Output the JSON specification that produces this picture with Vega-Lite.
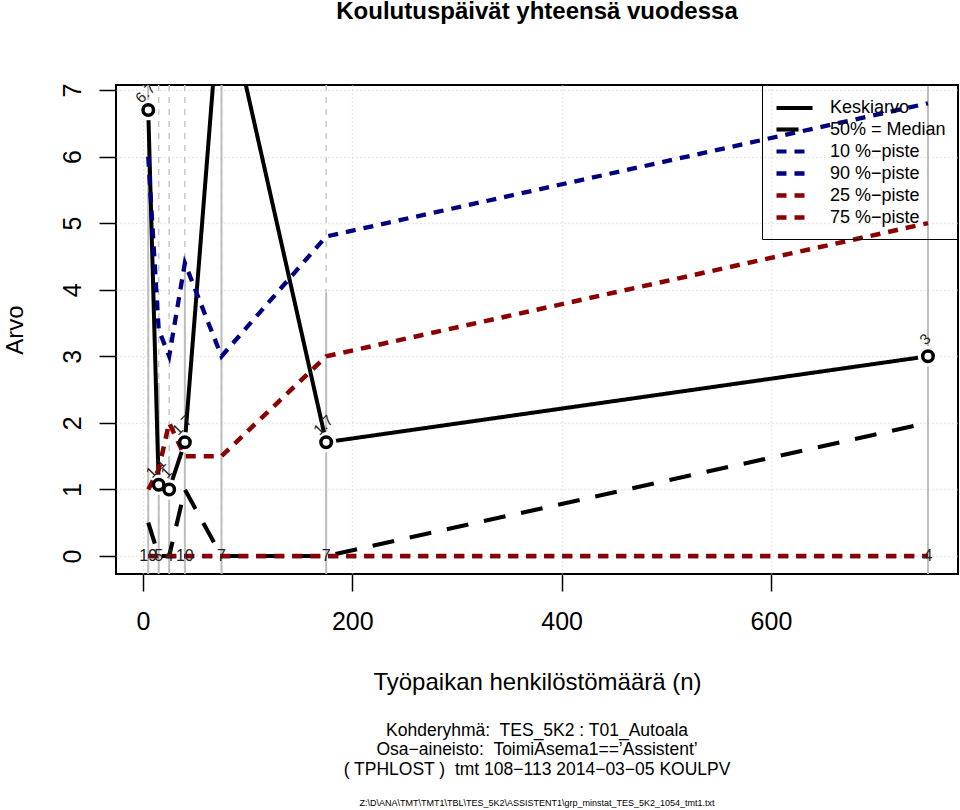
{
  "$schema": "https://vega.github.io/schema/vega-lite/v6.json",
  "width": 842,
  "height": 489,
  "autosize": {"type": "none"},
  "padding": {"left": 116, "top": 85, "right": 2, "bottom": 236},
  "background": "white",
  "config": {
    "view": {"stroke": "black", "strokeWidth": 2},
    "font": "Liberation Sans",
    "text": {"font": "Liberation Sans", "color": "black"},
    "axisX": {
      "domain": false, "grid": true, "gridColor": "#D3D3D3", "gridDash": [1, 3], "gridWidth": 1.5,
      "tickColor": "black", "tickSize": 17, "tickWidth": 1.5,
      "labelFontSize": 25, "labelFont": "Liberation Sans", "labelColor": "black", "labelPadding": 18,
      "titleFont": "Liberation Sans", "titleFontSize": 24, "titleFontWeight": "normal", "titleColor": "black", "titlePadding": 36
    },
    "axisY": {
      "domain": false, "grid": true, "gridColor": "#D3D3D3", "gridDash": [1, 3], "gridWidth": 1.5,
      "tickColor": "black", "tickSize": 17, "tickWidth": 1.5, "labelAngle": 270,
      "labelFontSize": 25, "labelFont": "Liberation Sans", "labelColor": "black", "labelPadding": 14,
      "titleFont": "Liberation Sans", "titleFontSize": 24, "titleFontWeight": "normal", "titleColor": "black", "titlePadding": 33
    }
  },
  "title": {
    "text": "Koulutuspäivät yhteensä vuodessa",
    "fontSize": 24,
    "fontWeight": "bold",
    "font": "Liberation Sans",
    "color": "black",
    "anchor": "middle",
    "offset": 59
  },
  "datasets": {
    "lines": [
      {"x": 5, "y": 6.7, "series": "Keskiarvo"},
      {"x": 15, "y": 1.07, "series": "Keskiarvo"},
      {"x": 25, "y": 1.0, "series": "Keskiarvo"},
      {"x": 40, "y": 1.71, "series": "Keskiarvo"},
      {"x": 75, "y": 8.7, "series": "Keskiarvo"},
      {"x": 175, "y": 1.71, "series": "Keskiarvo"},
      {"x": 750, "y": 3.0, "series": "Keskiarvo"},
      {"x": 5, "y": 0.5, "series": "50% = Median"},
      {"x": 15, "y": 0, "series": "50% = Median"},
      {"x": 25, "y": 0, "series": "50% = Median"},
      {"x": 40, "y": 1.0, "series": "50% = Median"},
      {"x": 75, "y": 0, "series": "50% = Median"},
      {"x": 175, "y": 0, "series": "50% = Median"},
      {"x": 750, "y": 2.0, "series": "50% = Median"},
      {"x": 5, "y": 0, "series": "10 %−piste"},
      {"x": 15, "y": 0, "series": "10 %−piste"},
      {"x": 25, "y": 0, "series": "10 %−piste"},
      {"x": 40, "y": 0, "series": "10 %−piste"},
      {"x": 75, "y": 0, "series": "10 %−piste"},
      {"x": 175, "y": 0, "series": "10 %−piste"},
      {"x": 750, "y": 0, "series": "10 %−piste"},
      {"x": 5, "y": 6.0, "series": "90 %−piste"},
      {"x": 15, "y": 3.4, "series": "90 %−piste"},
      {"x": 25, "y": 3.0, "series": "90 %−piste"},
      {"x": 40, "y": 4.4, "series": "90 %−piste"},
      {"x": 75, "y": 3.0, "series": "90 %−piste"},
      {"x": 175, "y": 4.8, "series": "90 %−piste"},
      {"x": 750, "y": 6.8, "series": "90 %−piste"},
      {"x": 5, "y": 0, "series": "25 %−piste"},
      {"x": 15, "y": 0, "series": "25 %−piste"},
      {"x": 25, "y": 0, "series": "25 %−piste"},
      {"x": 40, "y": 0, "series": "25 %−piste"},
      {"x": 75, "y": 0, "series": "25 %−piste"},
      {"x": 175, "y": 0, "series": "25 %−piste"},
      {"x": 750, "y": 0, "series": "25 %−piste"},
      {"x": 5, "y": 1.0, "series": "75 %−piste"},
      {"x": 15, "y": 1.3, "series": "75 %−piste"},
      {"x": 25, "y": 2.0, "series": "75 %−piste"},
      {"x": 40, "y": 1.5, "series": "75 %−piste"},
      {"x": 75, "y": 1.5, "series": "75 %−piste"},
      {"x": 175, "y": 3.0, "series": "75 %−piste"},
      {"x": 750, "y": 5.0, "series": "75 %−piste"}
    ],
    "points": [
      {"x": 5, "y": 6.7, "label": "6.7", "n": "19"},
      {"x": 15, "y": 1.07, "label": "1.1", "n": "5"},
      {"x": 25, "y": 1.0, "label": "1", "n": "4"},
      {"x": 40, "y": 1.71, "label": "1.7", "n": "10"},
      {"x": 75, "y": 8.7, "label": "8.7", "n": "7"},
      {"x": 175, "y": 1.71, "label": "1.7", "n": "7"},
      {"x": 750, "y": 3.0, "label": "3", "n": "4"}
    ],
    "vlines": [
      {"x": 5, "y": 10},
      {"x": 15, "y": 2.6},
      {"x": 25, "y": 1.5},
      {"x": 40, "y": 4.4},
      {"x": 75, "y": 10},
      {"x": 175, "y": 3.95},
      {"x": 750, "y": 10}
    ]
  },
  "encoding": {
    "x": {
      "field": "x",
      "type": "quantitative",
      "scale": {"domain": [-25.8, 778.7], "nice": false, "zero": false},
      "axis": {"title": "Työpaikan henkilöstömäärä (n)", "values": [0, 200, 400, 600]}
    },
    "y": {
      "field": "y",
      "type": "quantitative",
      "scale": {"domain": [-0.27, 7.075], "nice": false, "zero": false},
      "axis": {"title": "Arvo", "values": [0, 1, 2, 3, 4, 5, 6, 7]}
    }
  },
  "layer": [
    {
      "data": {"name": "vlines"},
      "mark": {"type": "rule", "color": "#C8C8C8", "strokeWidth": 1.5, "strokeDash": [6, 6], "clip": true},
      "encoding": {
        "y": {"datum": 7.075, "type": "quantitative", "scale": {"domain": [-0.27, 7.075], "nice": false, "zero": false}, "axis": {"title": "Arvo", "values": [0, 1, 2, 3, 4, 5, 6, 7]}},
        "y2": {"datum": -0.27}
      }
    },
    {
      "data": {"name": "vlines"},
      "mark": {"type": "rule", "color": "#BEBEBE", "strokeWidth": 2, "clip": true},
      "encoding": {
        "y2": {"datum": -0.27}
      }
    },
    {
      "data": {"name": "lines"},
      "transform": [{"filter": "datum.series === 'Keskiarvo'"}],
      "mark": {"type": "line", "clip": true},
      "encoding": {
        "color": {"field": "series", "type": "nominal", "scale": {"domain": ["Keskiarvo", "50% = Median", "10 %−piste", "90 %−piste", "25 %−piste", "75 %−piste"], "range": ["black", "black", "#000080", "#000080", "#8B0000", "#8B0000"]},
          "legend": {"title": null, "orient": "top-right", "offset": 0, "strokeColor": "black", "padding": 12, "labelFontSize": 18, "labelFont": "Liberation Sans", "labelColor": "black", "symbolType": "M-1,0H3", "symbolSize": 324, "labelOffset": 33, "rowPadding": 1}},
        "strokeDash": {"field": "series", "type": "nominal", "scale": {"domain": ["Keskiarvo", "50% = Median", "10 %−piste", "90 %−piste", "25 %−piste", "75 %−piste"], "range": [[1, 0], [22, 16], [10, 8], [10, 8], [10, 8], [10, 8]]}},
        "strokeWidth": {"field": "series", "type": "nominal", "scale": {"domain": ["Keskiarvo", "50% = Median", "10 %−piste", "90 %−piste", "25 %−piste", "75 %−piste"], "range": [4, 4.5, 2.3, 2.3, 2.3, 2.3]}}
      }
    },
    {
      "data": {"name": "points"},
      "mark": {"type": "point", "shape": "circle", "filled": true, "color": "white", "opacity": 1, "size": 420, "clip": true}
    },
    {
      "data": {"name": "lines"},
      "transform": [{"filter": "datum.series !== 'Keskiarvo'"}],
      "mark": {"type": "line", "clip": true},
      "encoding": {
        "color": {"field": "series", "type": "nominal", "scale": {"domain": ["Keskiarvo", "50% = Median", "10 %−piste", "90 %−piste", "25 %−piste", "75 %−piste"], "range": ["black", "black", "#000080", "#000080", "#8B0000", "#8B0000"]}},
        "strokeDash": {"field": "series", "type": "nominal", "scale": {"domain": ["Keskiarvo", "50% = Median", "10 %−piste", "90 %−piste", "25 %−piste", "75 %−piste"], "range": [[1, 0], [22, 16], [10, 8], [10, 8], [10, 8], [10, 8]]}},
        "strokeWidth": {"field": "series", "type": "nominal", "scale": {"domain": ["Keskiarvo", "50% = Median", "10 %−piste", "90 %−piste", "25 %−piste", "75 %−piste"], "range": [4, 4.5, 2.3, 2.3, 2.3, 2.3]}}
      }
    },
    {
      "data": {"name": "points"},
      "mark": {"type": "point", "shape": "circle", "filled": false, "color": "black", "strokeWidth": 3.5, "opacity": 1, "size": 110, "clip": true}
    },
    {
      "data": {"name": "points"},
      "mark": {"type": "text", "angle": 315, "fontSize": 15, "dx": 10, "dy": -14, "color": "#222222", "clip": true},
      "encoding": {
        "text": {"field": "label"}
      }
    },
    {
      "data": {"name": "points"},
      "mark": {"type": "text", "fontSize": 16, "baseline": "middle", "color": "#222222"},
      "encoding": {
        "y": {"datum": 0, "type": "quantitative", "scale": {"domain": [-0.27, 7.075], "nice": false, "zero": false}, "axis": {"title": "Arvo", "values": [0, 1, 2, 3, 4, 5, 6, 7]}},
        "text": {"field": "n"}
      }
    },
    {
      "data": {"name": "points"},
      "transform": [{"filter": "datum.x === 750"}],
      "mark": {"type": "text", "fontSize": 17.5, "baseline": "middle", "color": "black"},
      "encoding": {
        "x": {"datum": 376.5, "type": "quantitative", "scale": {"domain": [-25.8, 778.7], "nice": false, "zero": false}, "axis": {"title": "Työpaikan henkilöstömäärä (n)", "values": [0, 200, 400, 600]}},
        "y": {"datum": -2.63, "type": "quantitative", "scale": {"domain": [-0.27, 7.075], "nice": false, "zero": false}, "axis": {"title": "Arvo", "values": [0, 1, 2, 3, 4, 5, 6, 7]}},
        "text": {"value": "Kohderyhmä:\u00a0 TES_5K2 : T01_Autoala"}
      }
    },
    {
      "data": {"name": "points"},
      "transform": [{"filter": "datum.x === 750"}],
      "mark": {"type": "text", "fontSize": 17.5, "baseline": "middle", "color": "black"},
      "encoding": {
        "x": {"datum": 376.5, "type": "quantitative", "scale": {"domain": [-25.8, 778.7], "nice": false, "zero": false}, "axis": {"title": "Työpaikan henkilöstömäärä (n)", "values": [0, 200, 400, 600]}},
        "y": {"datum": -2.92, "type": "quantitative", "scale": {"domain": [-0.27, 7.075], "nice": false, "zero": false}, "axis": {"title": "Arvo", "values": [0, 1, 2, 3, 4, 5, 6, 7]}},
        "text": {"value": "Osa−aineisto:\u00a0 ToimiAsema1==’Assistent’"}
      }
    },
    {
      "data": {"name": "points"},
      "transform": [{"filter": "datum.x === 750"}],
      "mark": {"type": "text", "fontSize": 17.5, "baseline": "middle", "color": "black"},
      "encoding": {
        "x": {"datum": 376.5, "type": "quantitative", "scale": {"domain": [-25.8, 778.7], "nice": false, "zero": false}, "axis": {"title": "Työpaikan henkilöstömäärä (n)", "values": [0, 200, 400, 600]}},
        "y": {"datum": -3.21, "type": "quantitative", "scale": {"domain": [-0.27, 7.075], "nice": false, "zero": false}, "axis": {"title": "Arvo", "values": [0, 1, 2, 3, 4, 5, 6, 7]}},
        "text": {"value": "( TPHLOST )\u00a0 tmt 108−113 2014−03−05 KOULPV"}
      }
    },
    {
      "data": {"name": "points"},
      "transform": [{"filter": "datum.x === 750"}],
      "mark": {"type": "text", "fontSize": 9, "baseline": "middle", "color": "black"},
      "encoding": {
        "x": {"datum": 376.5, "type": "quantitative", "scale": {"domain": [-25.8, 778.7], "nice": false, "zero": false}, "axis": {"title": "Työpaikan henkilöstömäärä (n)", "values": [0, 200, 400, 600]}},
        "y": {"datum": -3.71, "type": "quantitative", "scale": {"domain": [-0.27, 7.075], "nice": false, "zero": false}, "axis": {"title": "Arvo", "values": [0, 1, 2, 3, 4, 5, 6, 7]}},
        "text": {"value": "Z:\\D\\ANA\\TMT\\TMT1\\TBL\\TES_5K2\\ASSISTENT1\\grp_minstat_TES_5K2_1054_tmt1.txt"}
      }
    }
  ]
}
